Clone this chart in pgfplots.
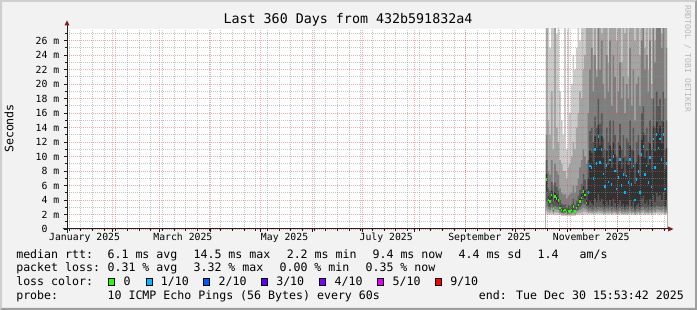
\documentclass[border=0pt]{standalone}
\usepackage{fontspec}
\setmainfont{DejaVu Sans Mono}
\usepackage{pgfplots}
\usepackage{pgfplotstable}
\pgfplotsset{compat=1.18}

\definecolor{bgc}{HTML}{F2F2F2}
\definecolor{shadeA}{HTML}{CFCFCF}
\definecolor{shadeB}{HTML}{9E9E9E}
\definecolor{axisc}{HTML}{1F1F1F}
\definecolor{arrowc}{HTML}{801F1F}
\definecolor{mgridc}{rgb}{0.87,0.31,0.31}
\definecolor{gridc}{rgb}{0.56,0.56,0.56}
\definecolor{Lone}{HTML}{CACACA}
\definecolor{Ltwo}{HTML}{A4A4A4}
\definecolor{Lthree}{HTML}{7E7E7E}
\definecolor{Lfour}{HTML}{585858}
\definecolor{Lfive}{HTML}{323232}
\definecolor{lc0}{HTML}{26FF00}
\definecolor{lc1}{HTML}{00B8FF}
\definecolor{lc2}{HTML}{0059FF}
\definecolor{lc3}{HTML}{5E00FF}
\definecolor{lc4}{HTML}{7E00FF}
\definecolor{lc5}{HTML}{DD00FF}
\definecolor{lc9}{HTML}{FF0000}

\newcommand{\lgf}{\fontsize{8.7}{10}\selectfont}
\newcommand{\tkf}{\fontsize{7.35}{8.5}\selectfont}

% day (since 1 Jan 2025), sorted ping percentiles p1..p10 and median m (ms)
\pgfplotstableread{
d p1 p2 p3 p4 p5 m p6 p7 p8 p9 p10
291 2.0 2.5 3.0 3.8 5.2 6.8 7.6 9.5 13 40 40
292 1.9 2.3 2.7 3.1 3.6 4.0 4.5 5.6 8 15 40
293 1.9 2.2 2.6 3.0 3.5 3.8 4.2 5.2 7.5 13 25
294 2.0 2.4 2.9 3.4 4.1 4.7 5.3 6.5 9.5 19 40
295 1.9 2.1 2.3 2.5 2.7 2.8 3.0 3.8 6.0 11 40
296 1.9 2.3 2.7 3.2 3.9 4.5 5.1 6.4 9 30 40
297 1.9 2.3 2.7 3.1 3.7 4.2 4.7 5.8 8 14 27
298 1.9 2.2 2.6 3.0 3.5 3.9 4.3 5.3 7.5 12 40
299 1.9 2.1 2.3 2.5 2.7 2.9 3.2 4.0 5.6 9.5 19
300 1.8 2.0 2.2 2.3 2.5 2.6 2.8 3.5 5.0 9 15
301 1.8 2.0 2.1 2.3 2.4 2.5 2.7 3.3 4.7 8 13
302 1.8 2.0 2.2 2.3 2.5 2.6 2.8 3.4 4.8 8 40
303 1.8 1.9 2.0 2.1 2.2 2.3 2.5 3.0 4.2 7 11
304 1.8 2.0 2.1 2.3 2.4 2.5 2.7 3.3 4.6 8.5 40
305 1.8 1.9 2.1 2.2 2.3 2.4 2.6 3.2 4.8 9 16
306 1.8 2.0 2.2 2.3 2.5 2.6 2.8 3.4 5.0 10 20
307 1.8 2.0 2.3 2.6 2.9 3.1 3.4 4.2 6.0 12 24
308 1.8 2.0 2.1 2.2 2.3 2.4 2.6 3.3 5.0 11 22
309 1.9 2.1 2.4 2.6 2.8 2.9 3.1 3.9 6.0 14 25
310 1.9 2.2 2.5 2.8 3.1 3.3 3.6 4.6 7.0 16 40
311 1.9 2.2 2.6 3.0 3.5 3.8 4.2 5.4 8.5 19 26
312 1.9 2.3 2.7 3.2 3.9 4.3 4.8 6.2 9.5 18 40
313 2.0 2.4 2.9 3.5 4.5 5.2 5.9 7.6 11 22 40
314 2.0 2.4 2.8 3.4 4.2 4.7 5.3 6.8 10 24 40
315 2.0 2.3 2.7 3.1 3.4 3.6 4.0 5.5 9 28 40
316 2.0 2.2 2.4 2.8 3.3 5.0 7.0 9.5 16 40 40
317 2.0 2.2 2.5 2.9 3.8 8.7 10.8 13.5 22 40 40
318 2.0 2.2 2.4 2.8 3.6 8.5 10.5 14 25 40 40
319 1.9 2.1 2.4 2.7 3.3 7.0 9.2 12 19 24 40
320 2.0 2.2 2.5 3.0 4.2 11.0 12.8 15.5 24 40 40
321 2.0 2.2 2.4 2.8 3.7 9.0 11.2 14 21 22 40
322 2.0 2.3 2.6 3.1 4.8 12.8 14.3 18 28 40 40
323 2.0 2.2 2.5 2.9 3.8 9.2 11.5 14.5 22 40 40
324 2.0 2.2 2.5 3.0 4.2 11.0 12.8 16 26 27 40
325 1.9 2.1 2.4 2.8 3.4 7.6 9.8 12.5 20 40 40
326 1.9 2.1 2.3 2.7 3.1 5.9 8.3 11 18 30 40
327 2.0 2.2 2.5 2.9 3.8 8.8 10.8 14 24 40 40
328 1.9 2.1 2.4 2.8 3.3 6.5 8.8 12 19 23 40
329 2.0 2.2 2.5 3.0 4.0 9.5 11.5 15 26 40 40
330 1.9 2.1 2.3 2.7 3.2 6.1 8.4 11 17 28 40
331 2.0 2.2 2.5 3.0 4.2 10.0 12 15 24 40 40
332 2.0 2.2 2.4 2.8 3.6 8.0 10.3 13 21 40 40
333 1.9 2.1 2.3 2.6 3.0 5.5 7.8 10 16 26 40
334 1.9 2.1 2.4 2.8 3.4 7.1 9.3 12 19 40 40
335 2.0 2.2 2.5 2.9 3.9 9.6 11.5 14.5 23 40 40
336 1.9 2.1 2.3 2.7 3.2 6.0 8.3 11 18 23 40
337 1.9 2.1 2.4 2.8 3.5 7.5 9.8 13 21 40 40
338 1.9 2.1 2.3 2.6 3.0 5.0 7.3 10 16 27 40
339 1.9 2.1 2.4 2.8 3.4 7.3 9.4 12.5 20 40 40
340 1.9 2.1 2.3 2.7 3.2 6.4 8.8 12 18 21 40
341 2.0 2.2 2.5 3.0 4.0 9.6 11.5 15 25 40 40
342 1.9 2.1 2.3 2.7 3.2 6.1 8.3 11 17 32 40
343 2.0 2.2 2.4 2.9 3.8 8.7 10.8 14 22 40 40
344 1.9 2.0 2.2 2.5 2.8 4.0 6.2 9 15 26 40
345 1.9 2.1 2.4 2.8 3.3 6.8 9.2 12 20 40 40
346 2.0 2.2 2.4 2.8 3.6 7.9 10.2 13 21 40 40
347 1.9 2.1 2.3 2.6 3.0 5.0 7.3 10 17 24 40
348 2.0 2.2 2.5 3.0 4.2 10.3 12.3 16 26 40 40
349 2.0 2.3 2.6 3.1 4.6 11.4 13.3 17 28 40 40
350 1.9 2.1 2.4 2.8 3.5 7.5 9.8 13 22 25 40
351 2.0 2.2 2.4 2.9 3.8 8.7 10.8 14 24 40 40
352 1.9 2.1 2.3 2.7 3.3 6.4 8.8 12 19 22 40
353 2.0 2.2 2.5 3.0 4.1 9.9 11.8 15 26 40 40
354 1.9 2.1 2.3 2.7 3.1 5.8 8.2 11 18 20 40
355 2.0 2.3 2.6 3.1 4.7 12.4 14.2 18 30 40 40
356 2.0 2.2 2.4 2.9 3.7 8.5 10.7 14 23 26 40
357 2.1 2.3 2.7 3.2 5.0 13.0 14.8 19 32 40 40
358 2.0 2.3 2.6 3.1 4.5 11.2 13.2 17 28 40 40
359 2.0 2.3 2.6 3.1 4.7 12.4 14.2 18 30 40 40
360 2.0 2.2 2.5 3.0 4.0 9.6 11.8 15 25 27 40
361 2.1 2.3 2.7 3.2 5.0 13.0 14.8 19 33 40 40
362 1.9 2.1 2.3 2.7 3.1 5.5 8.2 11 18 36 40
363 2.0 2.2 2.5 3.0 4.0 9.0 11.2 15 25 40 40
364 2.0 2.2 2.5 3.0 4.0 9.0 11.2 15 25 40 40
}\smoke

\begin{document}
\begin{tikzpicture}
\begin{scope}[x=0.75pt,y=0.75pt]
\fill[bgc] (0,0) rectangle (697,310);
\fill[shadeA] (0,0) -- (0,310) -- (697,310) -- (695,308) -- (2,308) -- (2,2) -- cycle;
\fill[shadeB] (0,0) -- (697,0) -- (697,310) -- (695,308) -- (695,2) -- (2,2) -- cycle;
\fill[white] (67,81) rectangle (667,281);
\end{scope}

\begin{axis}[
  at={(50.25pt,60.75pt)}, anchor=south west,
  scale only axis, width=450pt, height=150pt,
  xmin=3.662, xmax=363.662, ymin=0, ymax=27.6,
  axis on top,
  axis line style={draw=none},
  tick align=outside,
  xtick pos=left, ytick pos=left,
  major tick length=2.25pt, minor tick length=1.5pt,
  every tick/.style={axisc, line width=0.6pt},
  xtick={31,59,90,120,151,181,212,243,273,304,334},
  xticklabels={},
  minor xtick={5,12,...,362},
  extra x ticks={14.2,73.2,134.2,195.2,257.2,318.2},
  extra x tick labels={January 2025,March 2025,May 2025,July 2025,September 2025,November 2025},
  extra x tick style={grid=none, major tick length=0pt},
  xticklabel style={anchor=base, yshift=-8.5pt, inner sep=0pt, font=\tkf},
  ytick={0,2,...,26},
  yticklabels={0\hphantom{ m},2 m,4 m,6 m,8 m,10 m,12 m,14 m,16 m,18 m,20 m,22 m,24 m,26 m},
  minor ytick={1,3,...,27},
  yticklabel style={anchor=east, inner sep=0pt, xshift=-3.3pt, font=\tkf},
  grid=both,
  major grid style={draw=mgridc, draw opacity=0.45, line width=0.6pt, dash pattern=on 0.75pt off 0.75pt},
  minor grid style={draw=gridc, draw opacity=0.5, line width=0.6pt, dash pattern=on 0.75pt off 0.75pt},
]
\addplot[const plot, fill=Lone, draw=none] table[x=d,y=p10]{\smoke} \closedcycle;
\addplot[const plot, fill=Ltwo, draw=none] table[x=d,y=p9]{\smoke} \closedcycle;
\addplot[const plot, fill=Lthree, draw=none] table[x=d,y=p8]{\smoke} \closedcycle;
\addplot[const plot, fill=Lfour, draw=none] table[x=d,y=p7]{\smoke} \closedcycle;
\addplot[const plot, fill=Lfive, draw=none] table[x=d,y=p6]{\smoke} \closedcycle;
\addplot[const plot, fill=Lfour, draw=none] table[x=d,y=p5]{\smoke} \closedcycle;
\addplot[const plot, fill=Lthree, draw=none] table[x=d,y=p4]{\smoke} \closedcycle;
\addplot[const plot, fill=Ltwo, draw=none] table[x=d,y=p3]{\smoke} \closedcycle;
\addplot[const plot, fill=Lone, draw=none] table[x=d,y=p2]{\smoke} \closedcycle;
\addplot[const plot, fill=white, draw=none] table[x=d,y=p1]{\smoke} \closedcycle;
\addplot[only marks, mark=|, mark size=1pt, color=lc0, mark options={line width=0.9pt},
  restrict x to domain=290:316] table[x expr=\thisrow{d}+0.5, y=m]{\smoke};
\addplot[only marks, mark=|, mark size=1pt, color=lc1, mark options={line width=0.9pt},
  restrict x to domain=316:363.7] table[x expr=\thisrow{d}+0.5, y=m]{\smoke};
\end{axis}

\begin{scope}[x=0.75pt,y=0.75pt]
% axes with arrows
\draw[axisc, line width=0.75pt] (63,81) -- (669,81);
\fill[arrowc] (668,83.5) -- (673.5,81) -- (668,78.5) -- cycle;
\draw[axisc, line width=0.75pt] (67,77) -- (67,285);
\fill[arrowc] (64.5,284.5) -- (67,289.5) -- (69.5,284.5) -- cycle;
% title, unit, watermark
\node[anchor=base, inner sep=0pt, font=\fontsize{10}{12}\selectfont] at (348,286) {Last 360 Days from 432b591832a4};
\node[rotate=90, anchor=base, inner sep=0pt, font=\lgf] at (13.3,181.5) {Seconds};
\node[rotate=-90, anchor=base west, inner sep=0pt, font=\fontsize{6.06}{7}\selectfont, text=black!28] at (685,305) {RRDTOOL / TOBI OETIKER};
% legend
\begin{scope}[every node/.style={anchor=base west, inner sep=0pt, font=\lgf}]
\node at (16,51.7) {median rtt:};
\node at (107.3,51.7) {6.1 ms avg};
\node at (193.3,51.7) {14.5 ms max};
\node at (286.5,51.7) {2.2 ms min};
\node at (372.3,51.7) {9.4 ms now};
\node at (458.3,51.7) {4.4 ms sd};
\node at (537.3,51.7) {1.4};
\node at (579.3,51.7) {am/s};
\node at (16,38) {packet loss:};
\node at (107.3,38) {0.31 \% avg};
\node at (193.3,38) {3.32 \% max};
\node at (279.3,38) {0.00 \% min};
\node at (365.3,38) {0.35 \% now};
\node at (16,24) {loss color:};
\node at (123.3,24) {0};
\node at (160.7,24) {1/10};
\node at (218.3,24) {2/10};
\node at (276,24) {3/10};
\node at (334.3,24) {4/10};
\node at (392.3,24) {5/10};
\node at (450,24) {9/10};
\node at (16,10) {probe:};
\node at (107.3,10) {10 ICMP Echo Pings (56 Bytes) every 60s};
\node at (478.7,10) {end: Tue Dec 30 15:53:42 2025};
\end{scope}
\foreach \xx/\cc in {108.7/lc0,146/lc1,203.3/lc2,261.3/lc3,319.3/lc4,377.3/lc5,435.3/lc9}{
  \filldraw[fill=\cc, draw=black, line width=0.75pt] (\xx,24.2) rectangle (\xx+6,31.2);
}
\pgfresetboundingbox
\useasboundingbox (0,0) rectangle (697,310);
\end{scope}
\end{tikzpicture}
\end{document}
